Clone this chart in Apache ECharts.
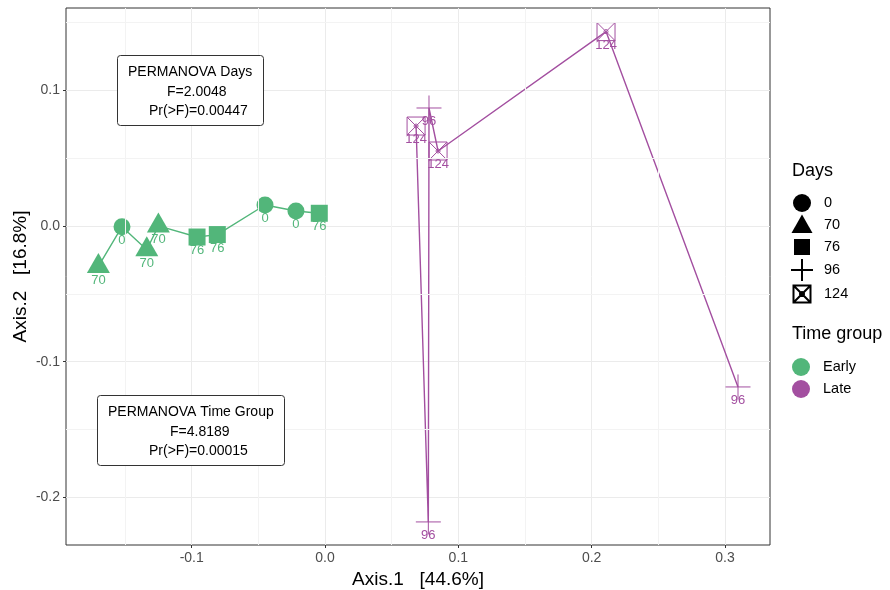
<!DOCTYPE html>
<html>
<head>
<meta charset="utf-8">
<script src="https://cdn.jsdelivr.net/npm/echarts@6/dist/echarts.min.js"></script>
<style>
  html, body { margin: 0; padding: 0; background: #fff; }
  #chart { width: 890px; height: 590px; }
</style>
</head>
<body>
<div id="chart"></div>
<script>
// PCoA ordination: sample coordinates on the first two axes, by time group
const earlyX    = [-0.1700, -0.1523, -0.1337, -0.1250, -0.0960, -0.0808, -0.0450, -0.0218, -0.0043];
const earlyY    = [-0.0298, -0.0005, -0.0175,  0.0001, -0.0081, -0.0063,  0.0155,  0.0111,  0.0094];
const earlyDays = ['70', '0', '70', '70', '76', '76', '0', '0', '76'];

const lateX    = [0.0683, 0.0775, 0.0780, 0.0848, 0.2108, 0.3098];
const lateY    = [0.0737, -0.2181, 0.0870, 0.0553, 0.1433, -0.1186];
const lateDays = ['124', '96', '96', '124', '124', '96'];

const dayLevels  = ['0', '70', '76', '96', '124'];
const groupNames = ['Early', 'Late'];

const xTicks = [-0.1, 0.0, 0.1, 0.2, 0.3];
const yTicks = [-0.2, -0.1, 0.0, 0.1];
const xMinor = [-0.15, -0.05, 0.05, 0.15, 0.25];
const yMinor = [-0.15, -0.05, 0.05, 0.15];

const xLimits = [-0.1943, 0.3338];
const yLimits = [-0.2351, 0.1607];

const permDays  = ['PERMANOVA Days', 'F=2.0048', 'Pr(>F)=0.00447'];
const permGroup = ['PERMANOVA Time Group', 'F=4.8189', 'Pr(>F)=0.00015'];

// ---- styling ----
const FONT = '"Liberation Sans", Arial, Helvetica, sans-serif';
const groupColors = { Early: '#52b67a', Late: '#a34fa0' };

const PLUS_PATH = 'path://M0 12 L24 12 M12 0 L12 24';
const BOX_PATH  = 'path://M0 0 L18 0 L18 18 L0 18 Z M0 0 L18 18 M18 0 L0 18 M11 9 A2 2 0 1 1 7 9 A2 2 0 1 1 11 9';

// marker shape for each sampling day
const shapes = {
  '0':   { symbol: 'circle',   size: 17,       offset: [0, 0],    hollow: false },
  '70':  { symbol: 'triangle', size: [23, 20], offset: [0, -3.5], hollow: false },
  '76':  { symbol: 'rect',     size: 17,       offset: [0, 0],    hollow: false },
  '96':  { symbol: PLUS_PATH,  size: 25,       offset: [0, 0],    hollow: true  },
  '124': { symbol: BOX_PATH,   size: 18,       offset: [0, 0],    hollow: true  }
};

// legend icons, drawn in a padded 22x22 box so each keeps its own size
const legendIcons = {
  '0':   'path://M0 0 M22 22 M20 11 A9 9 0 1 1 2 11 A9 9 0 1 1 20 11 Z',
  '70':  'path://M0 0 M22 22 M11 0.5 L21.5 19 L0.5 19 Z',
  '76':  'path://M0 0 M22 22 M3 3 L19 3 L19 19 L3 19 Z',
  '96':  'path://M0 11 L22 11 M11 0 L11 22',
  '124': 'path://M0 0 M22 22 M2.5 2.5 L19.5 2.5 L19.5 19.5 L2.5 19.5 Z M2.5 2.5 L19.5 19.5 M19.5 2.5 L2.5 19.5 M13 11 A2 2 0 1 1 9 11 A2 2 0 1 1 13 11'
};
const groupIcon = 'path://M0 0 M22 22 M20 11 A9 9 0 1 1 2 11 A9 9 0 1 1 20 11 Z';

function pointItems(xs, ys, days, color) {
  return xs.map((x, i) => {
    const s = shapes[days[i]];
    return {
      value: [x, ys[i], days[i]],
      symbol: s.symbol,
      symbolSize: s.size,
      symbolOffset: s.offset,
      itemStyle: s.hollow
        ? { color: 'rgba(0,0,0,0)', borderColor: color, borderWidth: 1, opacity: 1 }
        : { color: color, borderWidth: 0, opacity: 1 },
      label: { offset: [0, 13.5 - s.offset[1]] }
    };
  });
}

function pathSeries(name, xs, ys, color) {
  return {
    name: name + ' path',
    type: 'line',
    data: xs.map((x, i) => [x, ys[i]]),
    symbol: 'none',
    silent: true,
    z: 2,
    lineStyle: { color: color, width: 1.4 }
  };
}

function pointSeries(name, xs, ys, days, color) {
  return {
    name: name,
    type: 'scatter',
    symbol: 'circle',
    itemStyle: { color: color, opacity: 1 },
    data: pointItems(xs, ys, days, color),
    z: 3,
    label: {
      show: true,
      position: 'inside',
      formatter: p => p.value[2],
      color: color,
      fontSize: 13,
      fontFamily: FONT
    }
  };
}

// empty series that only feed the "Days" legend
const daySeries = dayLevels.map(d => ({
  name: d,
  type: 'scatter',
  data: [],
  symbol: legendIcons[d],
  itemStyle: shapes[d].hollow
    ? { color: 'rgba(0,0,0,0)', borderColor: '#000', borderWidth: 1, opacity: 1 }
    : { color: '#000', borderWidth: 0, opacity: 1 }
}));

// minor grid lines
const minorGrid = {
  name: 'minor grid',
  type: 'line',
  data: [],
  silent: true,
  z: 1,
  markLine: {
    silent: true,
    animation: false,
    symbol: ['none', 'none'],
    label: { show: false },
    lineStyle: { color: '#f3f3f3', width: 1, type: 'solid' },
    data: xMinor.map(v => ({ xAxis: v })).concat(yMinor.map(v => ({ yAxis: v })))
  }
};

function annotation(lines, box, xs, ys) {
  const children = [{
    type: 'rect',
    z: 100,
    shape: { x: box[0], y: box[1], width: box[2], height: box[3], r: 3 },
    style: { fill: '#fff', stroke: '#333', lineWidth: 1 }
  }];
  lines.forEach((t, i) => children.push({
    type: 'text',
    z: 101,
    x: xs[i], y: ys[i],
    style: { text: t, fill: '#000', font: '14px ' + FONT, textAlign: 'left', textVerticalAlign: 'middle' }
  }));
  return { type: 'group', children: children };
}

const axisLabelStyle = { color: '#4d4d4d', fontSize: 14, fontFamily: FONT, margin: 6 };
const titleStyle = { fontSize: 18, fontWeight: 'normal', color: '#000', fontFamily: FONT };

const option = {
  animation: false,
  backgroundColor: '#fff',
  grid: {
    left: 66, right: 120, top: 8, bottom: 45,
    outerBoundsMode: 'none', containLabel: false,
    show: true, borderColor: '#333', borderWidth: 1, backgroundColor: 'transparent'
  },
  title: [
    { text: 'Days', left: 792, top: 162, padding: 0, textStyle: titleStyle },
    { text: 'Time group', left: 792, top: 325, padding: 0, textStyle: titleStyle }
  ],
  legend: [
    {
      orient: 'vertical', left: 785, top: 187,
      itemWidth: 34, itemHeight: 22, itemGap: 0,
      selectedMode: false, symbolKeepAspect: true,
      data: dayLevels.map(d => ({ name: d, icon: legendIcons[d] })),
      textStyle: { fontSize: 14.5, color: '#000', fontFamily: FONT }
    },
    {
      orient: 'vertical', left: 785, top: 351,
      itemWidth: 34, itemHeight: 22, itemGap: 0,
      selectedMode: false, symbolKeepAspect: true,
      data: groupNames.map(g => ({ name: g, icon: groupIcon })),
      textStyle: { fontSize: 14.5, color: '#000', fontFamily: FONT }
    }
  ],
  xAxis: {
    type: 'value',
    min: xLimits[0], max: xLimits[1],
    name: 'Axis.1   [44.6%]',
    nameLocation: 'middle', nameGap: 25, nameMoveOverlap: false,
    nameTextStyle: { fontSize: 19, color: '#000', fontFamily: FONT },
    axisLine: { show: false, onZero: false },
    axisTick: { show: true, length: 3, customValues: xTicks, lineStyle: { color: '#333' } },
    axisLabel: Object.assign({ customValues: xTicks, formatter: v => v.toFixed(1) }, axisLabelStyle),
    splitLine: { show: true, lineStyle: { color: '#ebebeb', width: 1 } }
  },
  yAxis: {
    type: 'value',
    min: yLimits[0], max: yLimits[1],
    name: 'Axis.2   [16.8%]',
    nameLocation: 'middle', nameGap: 36, nameMoveOverlap: false,
    nameTextStyle: { fontSize: 19, color: '#000', fontFamily: FONT },
    axisLine: { show: false, onZero: false },
    axisTick: { show: true, length: 3, customValues: yTicks, lineStyle: { color: '#333' } },
    axisLabel: Object.assign({ customValues: yTicks, formatter: v => v.toFixed(1) }, axisLabelStyle),
    splitLine: { show: true, lineStyle: { color: '#ebebeb', width: 1 } }
  },
  graphic: [
    annotation(permDays,  [117.5, 55.5, 146, 70],  [128, 167, 149], [72, 92, 111]),
    annotation(permGroup, [97.5, 395.5, 187, 70],  [108, 170, 149], [412, 432, 451])
  ],
  series: [
    minorGrid,
    pathSeries('Early', earlyX, earlyY, groupColors.Early),
    pathSeries('Late', lateX, lateY, groupColors.Late),
    pointSeries('Early', earlyX, earlyY, earlyDays, groupColors.Early),
    pointSeries('Late', lateX, lateY, lateDays, groupColors.Late)
  ].concat(daySeries)
};

const chart = echarts.init(document.getElementById('chart'), null, { renderer: 'canvas' });
chart.setOption(option);
</script>
</body>
</html>
